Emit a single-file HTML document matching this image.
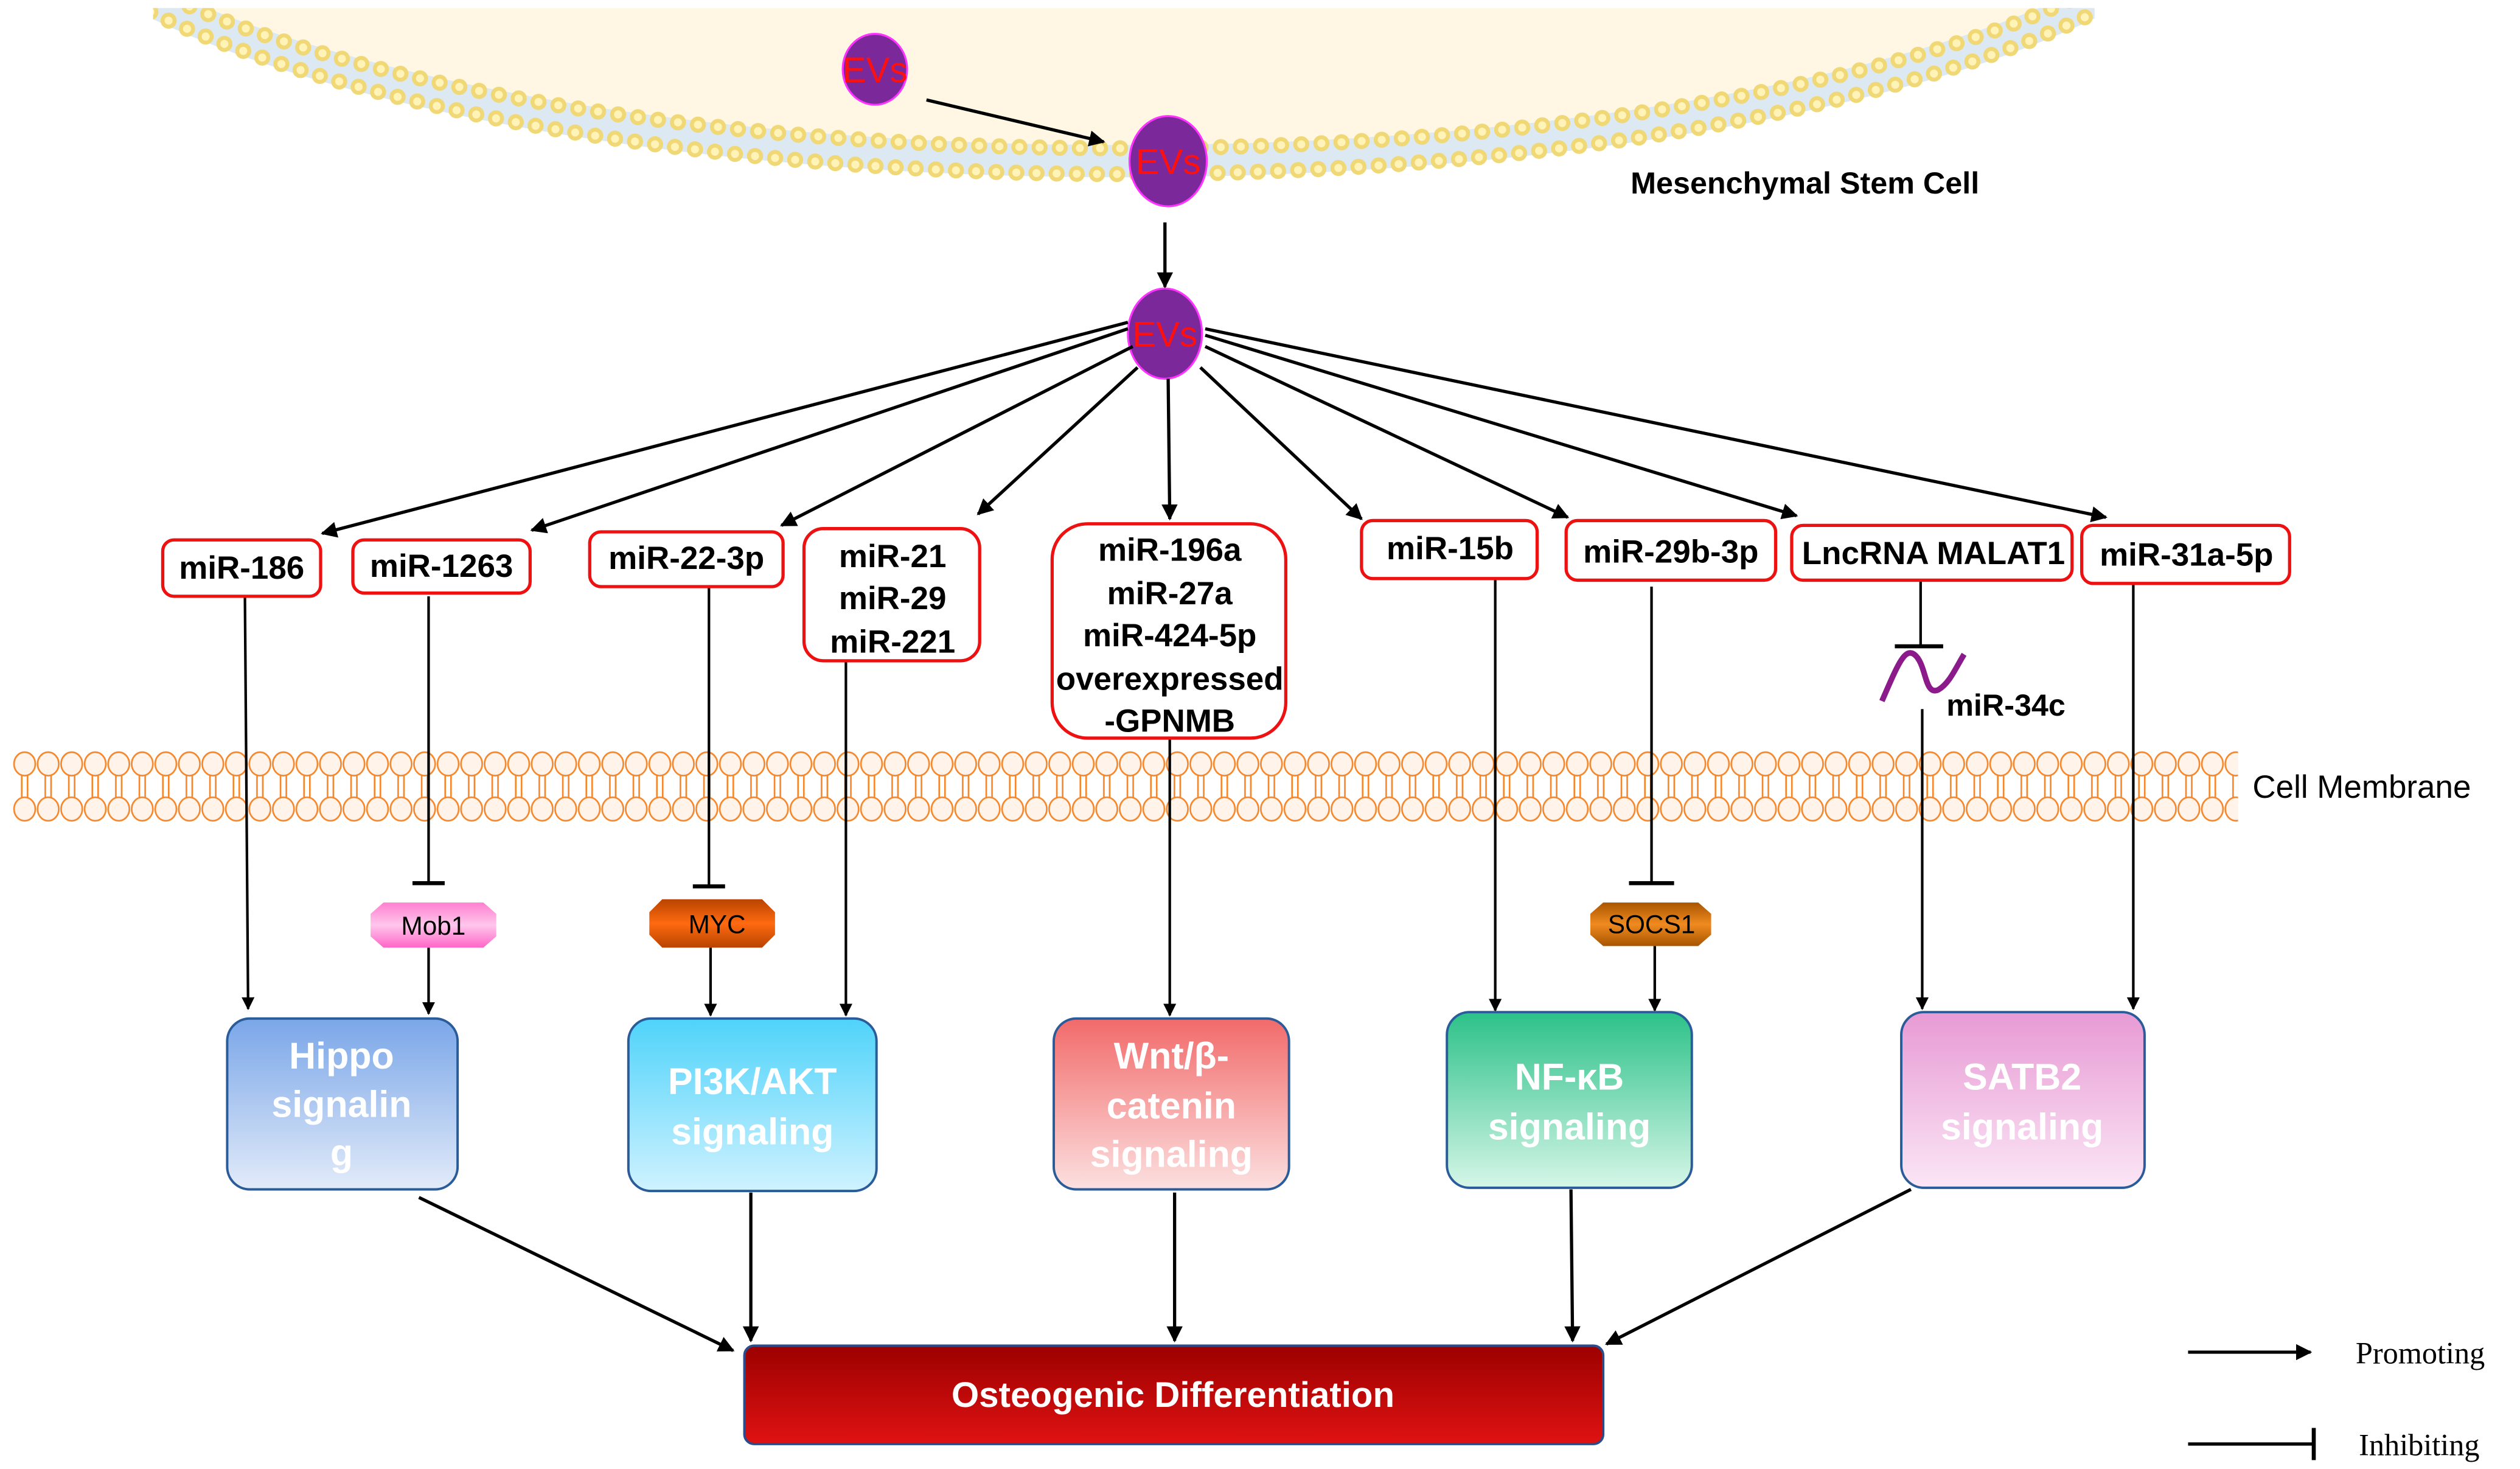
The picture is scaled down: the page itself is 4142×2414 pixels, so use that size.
<!DOCTYPE html>
<html><head><meta charset="utf-8"><style>html,body{margin:0;padding:0;background:#fff}svg{display:block}</style></head>
<body>
<svg width="4142" height="2414" viewBox="0 0 1564 911.5" xmlns="http://www.w3.org/2000/svg" font-family="Liberation Sans, sans-serif">
<defs>
<marker id="ah" viewBox="0 0 10 10" refX="9" refY="5" markerWidth="5" markerHeight="5" orient="auto" markerUnits="strokeWidth"><path d="M0,0 L10,5 L0,10 z" fill="#000"/></marker>
<pattern id="mem" x="8" y="466" width="14.6" height="44" patternUnits="userSpaceOnUse">
<line x1="5.5" y1="14" x2="5.5" y2="30" stroke="#f5862a" stroke-width="1"/>
<line x1="9.1" y1="14" x2="9.1" y2="30" stroke="#f5862a" stroke-width="1"/>
<ellipse cx="7.3" cy="8" rx="6.6" ry="7.3" fill="#fff3ea" stroke="#f5862a" stroke-width="1"/>
<ellipse cx="7.3" cy="36" rx="6.6" ry="7.3" fill="#fff3ea" stroke="#f5862a" stroke-width="1"/>
</pattern>
<linearGradient id="gH" x1="0" y1="0" x2="0" y2="1"><stop offset="0" stop-color="#7aa6e8"/><stop offset="1" stop-color="#e2ebf9"/></linearGradient>
<linearGradient id="gP" x1="0" y1="0" x2="0" y2="1"><stop offset="0" stop-color="#4fd3fa"/><stop offset="1" stop-color="#cff2ff"/></linearGradient>
<linearGradient id="gW" x1="0" y1="0" x2="0" y2="1"><stop offset="0" stop-color="#f26a6a"/><stop offset="1" stop-color="#fce0e0"/></linearGradient>
<linearGradient id="gN" x1="0" y1="0" x2="0" y2="1"><stop offset="0" stop-color="#2cc189"/><stop offset="1" stop-color="#d6f6e8"/></linearGradient>
<linearGradient id="gS" x1="0" y1="0" x2="0" y2="1"><stop offset="0" stop-color="#e79ad4"/><stop offset="1" stop-color="#fbe6f5"/></linearGradient>
<linearGradient id="gO" x1="0" y1="0" x2="0" y2="1"><stop offset="0" stop-color="#9c0000"/><stop offset="1" stop-color="#e01212"/></linearGradient>
<linearGradient id="gMob" x1="0" y1="0" x2="0" y2="1"><stop offset="0" stop-color="#ff7fd0"/><stop offset="0.5" stop-color="#ffc6ec"/><stop offset="1" stop-color="#ff66c8"/></linearGradient>
<linearGradient id="gMyc" x1="0" y1="0" x2="0" y2="1"><stop offset="0" stop-color="#b84400"/><stop offset="0.5" stop-color="#ff6a10"/><stop offset="1" stop-color="#b84400"/></linearGradient>
<linearGradient id="gSoc" x1="0" y1="0" x2="0" y2="1"><stop offset="0" stop-color="#a85500"/><stop offset="0.5" stop-color="#f08a20"/><stop offset="1" stop-color="#a85500"/></linearGradient>
<clipPath id="top"><rect x="95" y="5" width="1205" height="200"/></clipPath>
</defs>

<!-- MSC -->
<g clip-path="url(#top)">
<ellipse cx="697" cy="-100" rx="700" ry="200" fill="#fff7e4"/>
<ellipse cx="697" cy="-100" rx="697" ry="200" fill="none" stroke="#dce9f2" stroke-width="20"/>
<ellipse cx="697" cy="-100" rx="689" ry="192" fill="none" stroke="#f0d877" stroke-width="10" stroke-dasharray="0 12.5" stroke-linecap="round"/>
<ellipse cx="697" cy="-100" rx="705" ry="208" fill="none" stroke="#f0d877" stroke-width="10" stroke-dasharray="0 12.5" stroke-linecap="round"/>
<ellipse cx="697" cy="-100" rx="689" ry="192" fill="none" stroke="#fff3b8" stroke-width="5" stroke-dasharray="0 12.5" stroke-linecap="round"/>
<ellipse cx="697" cy="-100" rx="705" ry="208" fill="none" stroke="#fff3b8" stroke-width="5" stroke-dasharray="0 12.5" stroke-linecap="round"/>
</g>
<text x="1012" y="120" font-size="19" font-weight="bold">Mesenchymal Stem Cell</text>

<!-- EVs -->
<g stroke="#ff33ff" stroke-width="1.2" fill="#7a289a">
<ellipse cx="543" cy="43" rx="20" ry="22"/>
<ellipse cx="725" cy="100" rx="24" ry="28"/>
<ellipse cx="723" cy="207" rx="23" ry="28"/>
</g>
<g fill="#ff1010" font-size="22" text-anchor="middle">
<text x="543" y="51">EVs</text><text x="725" y="108">EVs</text><text x="723" y="215">EVs</text>
</g>
<g stroke="#000" stroke-width="2" fill="none" marker-end="url(#ah)">
<line x1="575" y1="62" x2="685" y2="88"/>
<line x1="723" y1="138" x2="723" y2="178"/>
<line x1="700" y1="200" x2="200" y2="331"/>
<line x1="700" y1="204" x2="330" y2="329"/>
<line x1="703" y1="215" x2="485" y2="326"/>
<line x1="706" y1="228" x2="607" y2="319"/>
<line x1="725" y1="235" x2="726" y2="322"/>
<line x1="745" y1="228" x2="845" y2="322"/>
<line x1="748" y1="215" x2="973" y2="321"/>
<line x1="748" y1="208" x2="1115" y2="320"/>
<line x1="748" y1="204" x2="1307" y2="321"/>
</g>

<!-- cell membrane -->
<rect x="8" y="466" width="1381" height="44" fill="url(#mem)"/>
<text x="1398" y="495" font-size="20">Cell Membrane</text>

<!-- vertical connectors -->
<g stroke="#000" stroke-width="1.6" fill="none">
<line x1="152" y1="370" x2="154" y2="626" marker-end="url(#ah)"/>
<line x1="266" y1="370" x2="266" y2="548"/><line x1="256" y1="548" x2="276" y2="548" stroke-width="2.5"/>
<line x1="266" y1="588" x2="266" y2="629" marker-end="url(#ah)"/>
<line x1="440" y1="364" x2="440" y2="550"/><line x1="430" y1="550" x2="450" y2="550" stroke-width="2.5"/>
<line x1="441" y1="588" x2="441" y2="630" marker-end="url(#ah)"/>
<line x1="525" y1="410" x2="525" y2="630" marker-end="url(#ah)"/>
<line x1="726" y1="458" x2="726" y2="630" marker-end="url(#ah)"/>
<line x1="928" y1="359" x2="928" y2="627" marker-end="url(#ah)"/>
<line x1="1025" y1="364" x2="1025" y2="548"/><line x1="1011" y1="548" x2="1039" y2="548" stroke-width="2.5"/>
<line x1="1027" y1="587" x2="1027" y2="627" marker-end="url(#ah)"/>
<line x1="1192" y1="360" x2="1192" y2="401"/><line x1="1176" y1="401" x2="1206" y2="401" stroke-width="2.5"/>
<line x1="1193" y1="440" x2="1193" y2="626" marker-end="url(#ah)"/>
<line x1="1324" y1="362" x2="1324" y2="626" marker-end="url(#ah)"/>
</g>
<path d="M1168,435 C1178,412 1182,402 1188,406 C1196,412 1194,432 1203,428 C1210,424 1214,414 1219,406" fill="none" stroke="#8b1a8b" stroke-width="3.5"/>
<text x="1208" y="444" font-size="19" font-weight="bold">miR-34c</text>

<!-- miR boxes -->
<g fill="#fff" stroke="#ee1111" stroke-width="2">
<rect x="101" y="335" width="98" height="35" rx="7"/>
<rect x="219" y="335" width="110" height="33" rx="7"/>
<rect x="366" y="330" width="120" height="34" rx="7"/>
<rect x="499" y="328" width="109" height="82" rx="12"/>
<rect x="653" y="325" width="145" height="133" rx="22"/>
<rect x="845" y="323" width="109" height="36" rx="7"/>
<rect x="972" y="323" width="130" height="37" rx="7"/>
<rect x="1112" y="326" width="174" height="34" rx="7"/>
<rect x="1292" y="326" width="129" height="36" rx="7"/>
</g>
<g font-size="20" font-weight="bold" text-anchor="middle" fill="#000">
<text x="150" y="359">miR-186</text>
<text x="274" y="358">miR-1263</text>
<text x="426" y="353">miR-22-3p</text>
<text x="554" y="352">miR-21</text><text x="554" y="378">miR-29</text><text x="554" y="405">miR-221</text>
<text x="726" y="348">miR-196a</text><text x="726" y="375">miR-27a</text><text x="726" y="401">miR-424-5p</text><text x="726" y="428">overexpressed</text><text x="726" y="454">-GPNMB</text>
<text x="900" y="347">miR-15b</text>
<text x="1037" y="349">miR-29b-3p</text>
<text x="1200" y="350">LncRNA MALAT1</text>
<text x="1357" y="351">miR-31a-5p</text>
</g>

<!-- small proteins -->
<polygon points="238,560 300,560 308,567 308,581 300,588 238,588 230,581 230,567" fill="url(#gMob)"/>
<text x="269" y="580" font-size="16" text-anchor="middle">Mob1</text>
<polygon points="411,558 473,558 481,566 481,580 473,588 411,588 403,580 403,566" fill="url(#gMyc)"/>
<text x="445" y="579" font-size="16" text-anchor="middle">MYC</text>
<polygon points="995,560 1054,560 1062,567 1062,580 1054,587 995,587 987,580 987,567" fill="url(#gSoc)"/>
<text x="1025" y="579" font-size="16" text-anchor="middle">SOCS1</text>

<!-- signaling boxes -->
<rect x="141" y="632" width="143" height="106" rx="14" fill="url(#gH)" stroke="#2b5c9a" stroke-width="1.5"/>
<rect x="390" y="632" width="154" height="107" rx="14" fill="url(#gP)" stroke="#2b5c9a" stroke-width="1.5"/>
<rect x="654" y="632" width="146" height="106" rx="14" fill="url(#gW)" stroke="#2b5c9a" stroke-width="1.5"/>
<rect x="898" y="628" width="152" height="109" rx="14" fill="url(#gN)" stroke="#2b5c9a" stroke-width="1.5"/>
<rect x="1180" y="628" width="151" height="109" rx="14" fill="url(#gS)" stroke="#2b5c9a" stroke-width="1.5"/>
<g fill="#fff" font-size="23" font-weight="bold" text-anchor="middle">
<text x="212" y="663">Hippo</text><text x="212" y="693">signalin</text><text x="212" y="723">g</text>
<text x="467" y="679">PI3K/AKT</text><text x="467" y="710">signaling</text>
<text x="727" y="663">Wnt/β-</text><text x="727" y="694">catenin</text><text x="727" y="724">signaling</text>
<text x="974" y="676">NF-κB</text><text x="974" y="707">signaling</text>
<text x="1255" y="676">SATB2</text><text x="1255" y="707">signaling</text>
</g>

<!-- to osteogenic -->
<g stroke="#000" stroke-width="2" fill="none" marker-end="url(#ah)">
<line x1="260" y1="743" x2="455" y2="838"/>
<line x1="466" y1="740" x2="466" y2="832"/>
<line x1="729" y1="740" x2="729" y2="832"/>
<line x1="975" y1="738" x2="976" y2="832"/>
<line x1="1186" y1="738" x2="997" y2="834"/>
</g>
<rect x="462" y="835" width="533" height="61" rx="6" fill="url(#gO)" stroke="#2b4c8a" stroke-width="1.5"/>
<text x="728" y="873" fill="#fff" font-size="22" font-weight="bold" text-anchor="middle">Osteogenic Differentiation</text>

<!-- legend -->
<line x1="1358" y1="839" x2="1434" y2="839" stroke="#000" stroke-width="2" marker-end="url(#ah)"/>
<text x="1462" y="846" font-family="Liberation Serif, serif" font-size="19">Promoting</text>
<line x1="1358" y1="896" x2="1436" y2="896" stroke="#000" stroke-width="2"/>
<line x1="1436" y1="886" x2="1436" y2="906" stroke="#000" stroke-width="2.5"/>
<text x="1464" y="903" font-family="Liberation Serif, serif" font-size="19">Inhibiting</text>
</svg>
</body></html>
